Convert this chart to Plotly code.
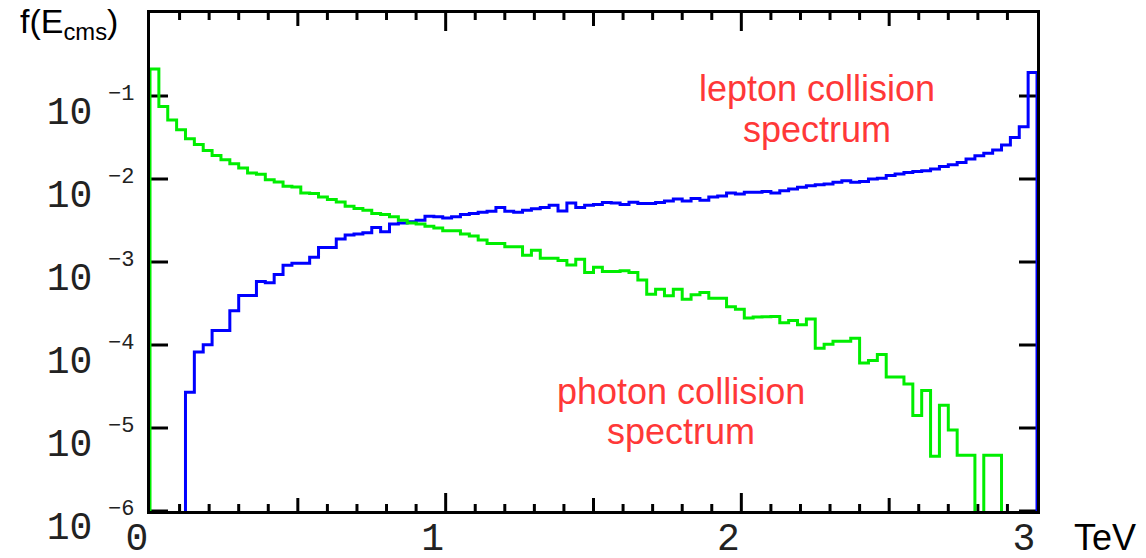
import math
import plotly.graph_objects as go

# Energy binning of the centre-of-mass spectra (TeV)
E_MIN, E_MAX = 0.0, 3.0
BIN_WIDTH = 0.03
# Vertical extent of the log axis
F_MIN, F_MAX = 1e-6, 1.0

# Normalised spectrum f(E_cms) per bin, photon collisions (0 = empty bin)
photon_spectrum = [
    2.11e-1, 7.45e-2, 5.15e-2, 3.91e-2, 3.05e-2, 2.61e-2, 2.21e-2, 1.92e-2, 1.71e-2, 1.53e-2,
    1.36e-2, 1.18e-2, 1.14e-2, 9.82e-3, 9.20e-3, 8.17e-3, 8.02e-3, 6.79e-3, 6.67e-3, 6.08e-3,
    5.65e-3, 5.30e-3, 4.70e-3, 4.41e-3, 4.21e-3, 3.84e-3, 3.73e-3, 3.50e-3, 3.19e-3, 2.96e-3,
    2.86e-3, 2.70e-3, 2.56e-3, 2.38e-3, 2.38e-3, 2.17e-3, 2.05e-3, 1.84e-3, 1.67e-3, 1.67e-3,
    1.53e-3, 1.53e-3, 1.21e-3, 1.39e-3, 1.11e-3, 1.11e-3, 1.04e-3, 9.20e-4, 1.08e-3, 7.45e-4,
    8.63e-4, 7.66e-4, 7.66e-4, 7.87e-4, 7.45e-4, 6.08e-4, 4.09e-4, 4.70e-4, 3.91e-4, 4.70e-4,
    3.56e-4, 4.02e-4, 4.29e-4, 3.66e-4, 3.66e-4, 2.88e-4, 2.70e-4, 2.11e-4, 2.17e-4, 2.19e-4,
    2.21e-4, 1.86e-4, 1.98e-4, 1.75e-4, 2.05e-4, 9.12e-5, 1.02e-4, 1.11e-4, 1.11e-4, 1.21e-4,
    6.08e-5, 6.49e-5, 7.66e-5, 4.13e-5, 4.13e-5, 3.39e-5, 1.41e-5, 2.83e-5, 4.57e-6, 1.88e-5,
    9.44e-6, 4.70e-6, 4.70e-6, 0.0, 4.70e-6, 4.70e-6, 0.0, 0.0, 0.0, 0.0,
]

# Normalised spectrum f(E_cms) per bin, lepton collisions (0 = empty bin)
lepton_spectrum = [
    0.0, 0.0, 0.0, 0.0, 2.70e-5, 8.24e-5, 1.01e-4, 1.50e-4, 1.50e-4, 2.58e-4,
    3.94e-4, 3.94e-4, 5.81e-4, 5.62e-4, 7.08e-4, 9.12e-4, 9.64e-4, 9.64e-4, 1.14e-3, 1.50e-3,
    1.50e-3, 1.89e-3, 2.11e-3, 2.17e-3, 2.25e-3, 2.61e-3, 2.31e-3, 2.86e-3, 2.96e-3, 3.05e-3,
    3.19e-3, 3.56e-3, 3.50e-3, 3.40e-3, 3.50e-3, 3.73e-3, 3.84e-3, 3.98e-3, 4.09e-3, 4.53e-3,
    4.09e-3, 3.98e-3, 4.21e-3, 4.37e-3, 4.53e-3, 4.83e-3, 4.13e-3, 5.15e-3, 4.53e-3, 4.83e-3,
    4.92e-3, 5.20e-3, 5.15e-3, 4.92e-3, 5.25e-3, 5.06e-3, 5.06e-3, 5.20e-3, 5.45e-3, 5.75e-3,
    5.45e-3, 5.81e-3, 5.55e-3, 6.08e-3, 6.25e-3, 6.79e-3, 6.61e-3, 6.92e-3, 6.92e-3, 7.08e-3,
    6.76e-3, 7.24e-3, 7.59e-3, 7.94e-3, 8.32e-3, 8.51e-3, 8.71e-3, 9.12e-3, 9.55e-3, 9.12e-3,
    9.33e-3, 1.00e-2, 1.02e-2, 1.10e-2, 1.15e-2, 1.20e-2, 1.23e-2, 1.26e-2, 1.32e-2, 1.41e-2,
    1.48e-2, 1.58e-2, 1.74e-2, 1.91e-2, 2.04e-2, 2.24e-2, 2.57e-2, 3.16e-2, 4.27e-2, 1.92e-1,
]

# Axis ticks and their labels
x_tick_values = [0, 1, 2, 3]
x_tick_labels = ["0", "1", "2", "3"]
x_half_ticks = [0.5, 1.5, 2.5]
x_tenth_ticks = [round(0.1 * k, 1) for k in range(1, 30) if k % 5 != 0]
y_tick_values = [1e-6, 1e-5, 1e-4, 1e-3, 1e-2, 1e-1]

PHOTON_COLOR = "#00ee00"
LEPTON_COLOR = "#0000ff"
LABEL_RED = "#ff3838"
MONO = "Liberation Mono"
TICK_FONT = dict(family=MONO, size=38, color="#222222")
TEXT_FONT = "Liberation Sans"

# Plot-area size in pixels and tick-mark lengths
PLOT_W, PLOT_H = 887, 498
TICK_LONG, TICK_HALF, TICK_SHORT = 18, 13, 7
TEV_PER_PX = (E_MAX - E_MIN) / PLOT_W
DECADES_PER_PX = (math.log10(F_MAX) - math.log10(F_MIN)) / PLOT_H

# Empty bins sit far below the lowest decade so the outline drops out of view
EMPTY_LEVEL = 1e-9


def outline(values):
    """Histogram outline: left edge rises from the floor, right edge falls back."""
    edges = [E_MIN + i * BIN_WIDTH for i in range(len(values))]
    xs = [E_MIN] + edges + [E_MAX]
    ys = [EMPTY_LEVEL] + [v if v > 0 else EMPTY_LEVEL for v in values] + [EMPTY_LEVEL]
    return xs, ys


def energy_ticks(positions, length_px):
    """Inward tick marks on the bottom and top frame edges."""
    k = 10 ** (length_px * DECADES_PER_PX)
    xs, ys = [], []
    for p in positions:
        xs += [p, p, None, p, p, None]
        ys += [F_MIN, F_MIN * k, None, F_MAX, F_MAX / k, None]
    return xs, ys


def decade_ticks(values, length_px):
    """Inward tick marks on the left and right frame edges."""
    w = length_px * TEV_PER_PX
    xs, ys = [], []
    for v in values:
        xs += [E_MIN, E_MIN + w, None, E_MAX, E_MAX - w, None]
        ys += [v, v, None, v, v, None]
    return xs, ys


fig = go.Figure()

tick_sets = [
    energy_ticks([v for v in x_tick_values if E_MIN < v < E_MAX], TICK_LONG),
    energy_ticks(x_half_ticks, TICK_HALF),
    energy_ticks(x_tenth_ticks, TICK_SHORT),
    decade_ticks(y_tick_values, TICK_LONG),
]
for xs, ys in tick_sets:
    fig.add_trace(go.Scatter(
        x=xs, y=ys, mode="lines", line=dict(color="black", width=3),
        hoverinfo="skip", showlegend=False,
    ))

for values, color in ((lepton_spectrum, LEPTON_COLOR), (photon_spectrum, PHOTON_COLOR)):
    xs, ys = outline(values)
    fig.add_trace(go.Scatter(
        x=xs, y=ys, mode="lines", line=dict(color=color, width=3, shape="hv"),
        hoverinfo="skip", showlegend=False,
    ))

axis_common = dict(showline=True, linewidth=3, linecolor="black", mirror=True,
                   ticks="inside", ticklen=TICK_LONG, tickwidth=3,
                   tickcolor="rgba(0,0,0,0)", showgrid=False, zeroline=False,
                   automargin=False)

# exponents of the decade labels, written beside the "10" tick labels
exponent_notes = [
    dict(text="−%d" % round(-math.log10(v)), xref="paper", yref="y",
         x=-0.0158, y=math.log10(v), xanchor="right", yanchor="middle", yshift=2,
         showarrow=False, font=dict(family=MONO, size=22, color="#222222"))
    for v in y_tick_values
]

text_notes = [
    dict(text="f(E<sub>cms</sub>)", xref="paper", yref="paper", x=-0.1488, y=1.026,
         xanchor="left", yanchor="top", showarrow=False,
         font=dict(family=TEXT_FONT, size=34, color="black")),
    dict(text="TeV", xref="paper", yref="paper", x=1.0772, y=-0.008,
         xanchor="center", yanchor="top", showarrow=False,
         font=dict(family=TEXT_FONT, size=36, color="black")),
    dict(text="lepton collision", xref="paper", yref="paper", x=0.752, y=0.8928,
         xanchor="center", yanchor="top", showarrow=False,
         font=dict(family=TEXT_FONT, size=36, color=LABEL_RED)),
    dict(text="spectrum", xref="paper", yref="paper", x=0.752, y=0.8104,
         xanchor="center", yanchor="top", showarrow=False,
         font=dict(family=TEXT_FONT, size=36, color=LABEL_RED)),
    dict(text="photon collision", xref="paper", yref="paper", x=0.5986, y=0.2843,
         xanchor="center", yanchor="top", showarrow=False,
         font=dict(family=TEXT_FONT, size=36, color=LABEL_RED)),
    dict(text="spectrum", xref="paper", yref="paper", x=0.5986, y=0.2040,
         xanchor="center", yanchor="top", showarrow=False,
         font=dict(family=TEXT_FONT, size=36, color=LABEL_RED)),
]

fig.update_layout(
    template="none",
    width=1146, height=558,
    margin=dict(l=150, r=1146 - 150 - PLOT_W, t=13, b=558 - 13 - PLOT_H),
    paper_bgcolor="white", plot_bgcolor="white",
    xaxis=dict(
        range=[E_MIN, E_MAX], tickmode="array", tickvals=x_tick_values,
        ticktext=x_tick_labels, tickfont=TICK_FONT,
        ticklabelshift=-13, ticklabelstandoff=-10,
        **axis_common,
    ),
    yaxis=dict(
        type="log", range=[math.log10(F_MIN), math.log10(F_MAX)], tickmode="array",
        tickvals=y_tick_values, ticktext=["10"] * len(y_tick_values),
        tickfont=TICK_FONT, ticklabelshift=15, ticklabelstandoff=47,
        **axis_common,
    ),
    annotations=exponent_notes + text_notes,
)

fig.write_html("out.html")
